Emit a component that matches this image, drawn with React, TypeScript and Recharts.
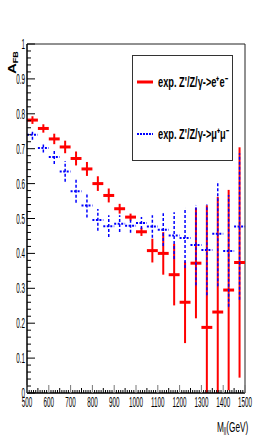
import React from "react";
import {
  ComposedChart,
  Scatter,
  ErrorBar,
  XAxis,
  YAxis,
  ReferenceLine,
  Legend,
} from "recharts";

// bin centres (GeV), bins are 50 GeV wide
const masses = [525, 575, 625, 675, 725, 775, 825, 875, 925, 975, 1025, 1075, 1125, 1175, 1225, 1275, 1325, 1375, 1425, 1475];
const eeAfb = [0.782, 0.758, 0.728, 0.705, 0.672, 0.642, 0.6, 0.566, 0.528, 0.504, 0.462, 0.408, 0.4, 0.339, 0.26, 0.372, 0.188, 0.232, 0.295, 0.374];
const eeErr = [0.011, 0.012, 0.015, 0.018, 0.02, 0.02, 0.021, 0.02, 0.014, 0.01, 0.012, 0.034, 0.061, 0.088, 0.117, 0.158, 0.35, 0.33, 0.287, 0.33];
const mumuAfb = [0.74, 0.702, 0.676, 0.635, 0.578, 0.537, 0.496, 0.478, 0.485, 0.479, 0.487, 0.477, 0.468, 0.451, 0.444, 0.424, 0.41, 0.456, 0.407, 0.477];
const mumuErr = [0.014, 0.013, 0.02, 0.03, 0.033, 0.034, 0.031, 0.031, 0.024, 0.02, 0.017, 0.032, 0.047, 0.067, 0.086, 0.115, 0.13, 0.15, 0.16, 0.21];
const binHalfWidth = 25;

const xMajor = [500, 600, 700, 800, 900, 1000, 1100, 1200, 1300, 1400, 1500];
const yMajorLabels = ["0", "0.1", "0.2", "0.3", "0.4", "0.5", "0.6", "0.7", "0.8", "0.9", "1"];

const legendEntries = [
  { label: "exp. Z'/Z/\u03b3->e\u207ae\u207b", color: "#ff0000", dash: undefined, width: 3 },
  { label: "exp. Z'/Z/\u03b3->\u03bc\u207a\u03bc\u207b", color: "#0000ff", dash: "2 1", width: 2 },
];

const toRows = (ys: number[], errs: number[]) =>
  masses.map((m, i) => ({
    m,
    a: ys[i],
    ex: binHalfWidth,
    ey: [Math.min(errs[i], ys[i]), Math.min(errs[i], 1 - ys[i])],
  }));

const eeData = toRows(eeAfb, eeErr);
const mumuData = toRows(mumuAfb, mumuErr);

const xTicks: number[] = [];
for (let v = 500; v <= 1500; v += 10) xTicks.push(v);
const yTicks: number[] = [];
for (let i = 0; i <= 50; i++) yTicks.push(i / 50);

const FONT = "'Liberation Sans', Arial, sans-serif";

const XTick = (props: any) => {
  const { x, y, payload } = props;
  const v = Math.round(payload.value);
  const major = xMajor.includes(v);
  const len = major ? 8 : v % 50 === 0 ? 5 : 3;
  return (
    <g>
      <line x1={x} y1={y} x2={x} y2={y - len} stroke={major ? "#777" : "#000"} strokeWidth={1} />
      {major && (
        <text
          transform={`translate(${x},${y + 14}) scale(0.42,1)`}
          textAnchor="middle"
          fontSize={15}
          fontFamily={FONT}
          fill="#000"
        >
          {v}
        </text>
      )}
    </g>
  );
};

const YTick = (props: any) => {
  const { x, y, payload } = props;
  const k = Math.round(payload.value * 50);
  const major = k % 5 === 0;
  return (
    <g>
      <line x1={x} y1={y} x2={x + (major ? 8 : 4)} y2={y} stroke="#000" strokeWidth={1} />
      {major && (
        <text
          transform={`translate(${x - 2},${y + 5}) scale(0.45,1)`}
          textAnchor="end"
          fontSize={14}
          fontFamily={FONT}
          fill="#000"
        >
          {yMajorLabels[k / 5]}
        </text>
      )}
    </g>
  );
};

const renderLegend = () => (
  <div
    style={{
      width: 101,
      height: 106,
      border: "1px solid #333",
      boxSizing: "border-box",
      background: "#fff",
    }}
  >
    <svg width={99} height={104}>
      {legendEntries.map((e, i) => (
        <g key={e.label}>
          <line
            x1={4}
            x2={20}
            y1={26 + i * 52}
            y2={26 + i * 52}
            stroke={e.color}
            strokeWidth={e.width}
            strokeDasharray={e.dash}
          />
          <text
            transform={`translate(25,${31 + i * 52}) scale(0.66,1)`}
            fontSize={14}
            fontWeight="bold"
            fontFamily={FONT}
            fill="#000"
          >
            {e.label}
          </text>
        </g>
      ))}
    </svg>
  </div>
);

const App: React.FC = () => {
  return (
    <div style={{ position: "absolute", left: 0, top: 0, width: 273, height: 436, background: "#fff" }}>
      <ComposedChart width={273} height={436} margin={{ top: 44, right: 28, bottom: 0, left: 0 }}>
        <XAxis
          type="number"
          dataKey="m"
          domain={[500, 1500]}
          ticks={xTicks}
          interval={0}
          allowDataOverflow
          height={43}
          tickLine={false}
          tickSize={0}
          tickMargin={0}
          tick={<XTick />}
          axisLine={{ stroke: "#000", strokeWidth: 1.5 }}
        />
        <YAxis
          type="number"
          dataKey="a"
          domain={[0, 1]}
          ticks={yTicks}
          interval={0}
          allowDataOverflow
          width={27}
          tickLine={false}
          tickSize={0}
          tickMargin={0}
          tick={<YTick />}
          axisLine={{ stroke: "#000", strokeWidth: 1.5 }}
        />
        <ReferenceLine y={1} stroke="#222" strokeWidth={1} />
        <ReferenceLine x={1500} stroke="#222" strokeWidth={1} />
        <Legend
          layout="vertical"
          align="center"
          verticalAlign="middle"
          content={renderLegend}
          wrapperStyle={{ left: 132, top: 55, width: 101, height: 106 }}
        />
        <Scatter
          name="ee"
          data={eeData}
          fill="#ff0000"
          shape={() => <g />}
          legendType="none"
          isAnimationActive={false}
        >
          <ErrorBar dataKey="ey" direction="y" width={0} stroke="#ff0000" strokeWidth={2} />
          <ErrorBar dataKey="ex" direction="x" width={0} stroke="#ff0000" strokeWidth={3} />
        </Scatter>
        <Scatter
          name="mumu"
          data={mumuData}
          fill="#0000ff"
          shape={() => <g />}
          legendType="none"
          isAnimationActive={false}
        >
          <ErrorBar
            dataKey="ey"
            direction="y"
            width={0}
            stroke="#0000ff"
            strokeWidth={1.5}
            strokeDasharray="3 2"
          />
          <ErrorBar
            dataKey="ex"
            direction="x"
            width={0}
            stroke="#0000ff"
            strokeWidth={2}
            strokeDasharray="2 1.5"
          />
        </Scatter>
      </ComposedChart>
      {/* axis titles */}
      <svg
        width={273}
        height={436}
        style={{ position: "absolute", left: 0, top: 0, pointerEvents: "none" }}
      >
        <text
          transform="translate(16,74) scale(0.75,1) rotate(-90)"
          fontSize={15}
          fontWeight="bold"
          fontFamily={FONT}
          fill="#000"
        >
          A
          <tspan fontSize={9} dy={3}>FB</tspan>
        </text>
        <text
          transform="translate(217,432) scale(0.55,1)"
          fontSize={15}
          fontFamily={FONT}
          fill="#000"
        >
          M
          <tspan fontSize={10} dy={3}>ll</tspan>
          <tspan dy={-3}>(GeV)</tspan>
        </text>
      </svg>
    </div>
  );
};

export default App;
